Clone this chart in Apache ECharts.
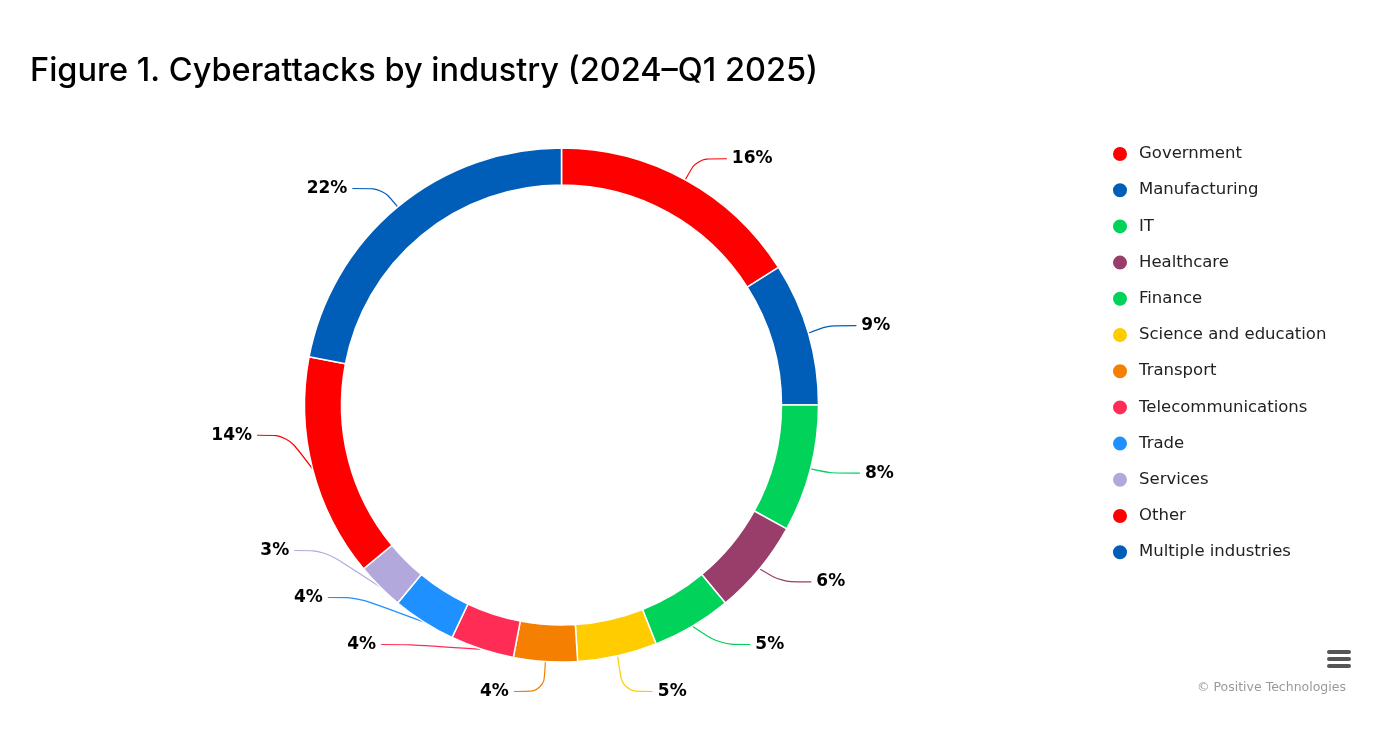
<!DOCTYPE html>
<html>
<head>
<meta charset="utf-8">
<script src="https://cdn.jsdelivr.net/npm/echarts@6/dist/echarts.min.js"></script>
<style>
html,body{margin:0;padding:0;background:#fff;}
#chart{width:1400px;height:729px;}
</style>
</head>
<body>
<div id="chart"></div>
<script>
const categories = ["Government","Manufacturing","IT","Healthcare","Finance","Science and education","Transport","Telecommunications","Trade","Services","Other","Multiple industries"];
const values = [16, 9, 8, 6, 5, 5, 4, 4, 4, 3, 14, 22];
const colors = ["#FF0000","#005EB8","#00D25A","#993D6B","#00D25A","#FFCC00","#F57F00","#FF2D55","#1E90FF","#B3A8DC","#FF0000","#005EB8"];

const chart = echarts.init(document.getElementById('chart'));
chart.setOption({
  animation: false,
  title: {
    text: 'Figure 1. Cyberattacks by industry (2024\u2013Q1 2025)',
    left: 25, top: 50,
    textStyle: {fontFamily: 'Inter', fontWeight: 500, fontSize: 32.5, color: '#000'}
  },
  legend: {
    orient: 'vertical',
    left: 1106, top: 140,
    icon: 'circle',
    itemWidth: 16, itemHeight: 16, itemGap: 18.2,
    data: categories,
    textStyle: {fontFamily: 'DejaVu Sans', fontSize: 16.5, color: '#222', padding: [0,0,0,6]}
  },
  graphic: [
    {type:'rect', shape:{x:1327,y:650,width:24,height:4,r:2}, style:{fill:'#555'}},
    {type:'rect', shape:{x:1327,y:657,width:24,height:4,r:2}, style:{fill:'#555'}},
    {type:'rect', shape:{x:1327,y:664,width:24,height:4,r:2}, style:{fill:'#555'}},
    {type:'text', left: 1197, top: 681, style:{text:'\u00a9 Positive Technologies', fontFamily:'DejaVu Sans', fontSize: 12.5, fill:'#999'}}
  ],
  series: [{
    type: 'pie',
    left: 0, top: 0, right: 0, bottom: 14,
    center: [561.5, 405],
    radius: [220, 257],
    startAngle: 90,
    clockwise: true,
    avoidLabelOverlap: true,
    itemStyle: {borderColor: '#fff', borderWidth: 1.5},
    label: {
      show: true,
      formatter: '{c}%',
      lineHeight: 45,
      fontFamily: 'DejaVu Sans', fontWeight: 'bold', fontSize: 17, color: '#000'
    },
    labelLine: {show: true, length: 24, length2: 30, smooth: 0.3, lineStyle: {width: 1.2}},
    data: categories.map((c, i) => ({name: c, value: values[i], itemStyle: {color: colors[i]}}))
  }]
});
</script>
</body>
</html>
